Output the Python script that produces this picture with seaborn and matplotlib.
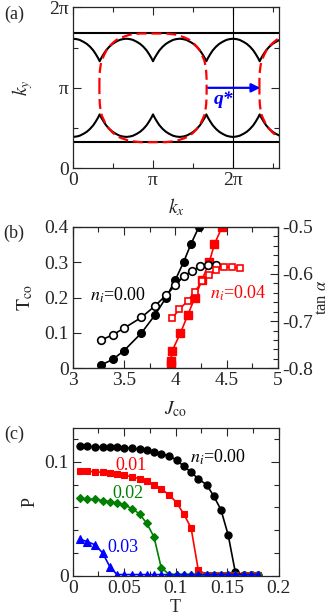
import numpy as np
import matplotlib
matplotlib.use('Agg')
import matplotlib.pyplot as plt
import seaborn as sns
from matplotlib.ticker import FixedLocator, MultipleLocator, AutoMinorLocator, FuncFormatter

sns.set_style('ticks')
plt.rcParams['font.family'] = ['Liberation Serif', 'DejaVu Serif']
plt.rcParams['mathtext.fontset'] = 'stix'
plt.rcParams['axes.unicode_minus'] = False
plt.rcParams['font.size'] = 13

# ---- panel (a): Fermi surface, k in units of pi ----
arc_dk = [0.0, 0.02, 0.05, 0.08, 0.12, 0.16, 0.20, 0.25, 0.29, 0.333]   # offset from cusp
arc_ky = [1.33, 1.37, 1.42, 1.465, 1.51, 1.545, 1.57, 1.595, 1.605, 1.61]
cusp_kx = [-1 / 3, 1 / 3, 1.0, 5 / 3, 7 / 3, 3.0]
flat_ky = [1.675, 0.325]
red_kx_q = [0.330, 0.330, 0.335, 0.345, 0.36, 0.39, 0.42, 0.46, 0.50, 0.55, 0.61, 0.71, 0.84, 1.00]
red_ky_q = [1.00, 1.10, 1.20, 1.28, 1.345, 1.41, 1.47, 1.52, 1.56, 1.60, 1.627, 1.66, 1.675, 1.675]
q_start, q_end = 1.69, 2.34

# ---- panel (b) ----
J_00 = [3.28, 3.39, 3.50, 3.67, 3.80, 3.91, 4.00, 4.08, 4.15, 4.23]
Tco_00 = [0.01, 0.025, 0.05, 0.10, 0.15, 0.20, 0.25, 0.30, 0.35, 0.40]
J_00_tan = [3.28, 3.39, 3.50, 3.67, 3.80, 3.91, 4.00, 4.08, 4.16, 4.24, 4.32, 4.40]
tan_00 = [-0.740, -0.729, -0.715, -0.692, -0.668, -0.645, -0.624, -0.605, -0.594, -0.584, -0.582, -0.580]
J_04 = [3.955, 3.955, 3.97, 4.05, 4.12, 4.19, 4.26, 4.33, 4.38, 4.455]
Tco_04 = [0.008, 0.022, 0.05, 0.10, 0.15, 0.20, 0.25, 0.30, 0.35, 0.40]
J_04_tan = [3.97, 4.04, 4.12, 4.19, 4.26, 4.33, 4.40, 4.47, 4.55, 4.63]
tan_04 = [-0.693, -0.675, -0.657, -0.638, -0.615, -0.602, -0.592, -0.586, -0.585, -0.588]

# ---- panel (c) ----
T = [0.007, 0.014, 0.022, 0.029, 0.036, 0.043, 0.050, 0.058, 0.065, 0.072, 0.079, 0.086, 0.094,
     0.101, 0.108, 0.115, 0.122, 0.130, 0.137, 0.144, 0.151, 0.158, 0.166, 0.173, 0.180]
P_000 = [0.114, 0.114, 0.113, 0.113, 0.113, 0.113, 0.112, 0.112, 0.111, 0.110, 0.109, 0.107, 0.105,
         0.1015, 0.096, 0.091, 0.085, 0.080, 0.070, 0.058, 0.036, 0.003, 0.001, 0.001, 0.001]
P_001 = [0.092, 0.092, 0.091, 0.091, 0.090, 0.089, 0.088, 0.087, 0.085, 0.083, 0.080, 0.076, 0.071,
         0.064, 0.054, 0.042, 0.005, 0.001, 0.001, 0.001, 0.001, 0.001, 0.001, 0.001, 0.001]
P_002 = [0.068, 0.067, 0.067, 0.066, 0.065, 0.064, 0.062, 0.059, 0.054, 0.046, 0.034, 0.007, 0.001,
         0.001, 0.001, 0.001, 0.001, 0.001, 0.001, 0.001, 0.001, 0.001, 0.001, 0.001, 0.001]
P_003 = [0.032, 0.030, 0.027, 0.020, 0.008, 0.001, 0.001, 0.001, 0.001, 0.001, 0.001, 0.001, 0.001,
         0.001, 0.001, 0.001, 0.001, 0.001, 0.001, 0.001, 0.001, 0.001, 0.001, 0.001, 0.001]

RED, GREEN, BLUE = '#ff0000', '#008000', '#0000ff'
TICK_FS = 14
gfmt = FuncFormatter(lambda v, p: '%g' % v)


def style_ticks(ax, right=True):
    ax.tick_params(which='both', direction='in', top=True, right=right, labelsize=TICK_FS, pad=3, width=0.8)
    ax.tick_params(which='major', length=6)
    ax.tick_params(which='minor', length=3.5)
    for s in ax.spines.values():
        s.set_linewidth(0.9)


fig = plt.figure(figsize=(3.32, 6.15), dpi=100)

# ================= (a) =================
ax = fig.add_axes([0.2199, 0.7263, 0.6205, 0.2618])
dk = np.array(arc_dk)
ky = np.array(arc_ky)
up_x, up_y = [], []
for c in cusp_kx:
    up_x += list(c - dk[::-1]) + list(c + dk[1:])
    up_y += list(ky[::-1]) + list(ky[1:])
up_x = np.array(up_x)
up_y = np.array(up_y)
for yy in [up_y, 2 - up_y]:
    sns.lineplot(x=up_x, y=yy, ax=ax, color='k', linewidth=1.5, sort=False, estimator=None, legend=False)
for f in flat_ky:
    ax.axhline(f, color='k', lw=1.5)
ax.axvline(2, color='k', lw=0.8)

# closed red loop from the top-left quarter and its mirror images
qx = np.array(red_kx_q)
qy = np.array(red_ky_q)
loop_x = np.concatenate([qx, (2 - qx)[::-1], 2 - qx, qx[::-1]])
loop_y = np.concatenate([qy, qy[::-1], 2 - qy, (2 - qy)[::-1]])
for shift in [0, 2]:
    sns.lineplot(x=loop_x + shift, y=loop_y, ax=ax, color=RED, linewidth=1.6,
                 linestyle=(0, (4.5, 2.2)), sort=False, estimator=None, legend=False)

ax.annotate('', xy=(q_end, 1.0), xytext=(q_start, 1.0),
            arrowprops=dict(arrowstyle='-|>', color=BLUE, lw=1.6, mutation_scale=13, shrinkA=0, shrinkB=0))
ax.text(1.875, 0.85, 'q*', color=BLUE, fontsize=14, fontweight='bold', fontstyle='italic',
        ha='center', va='center')

ax.set_xlim(0, 2.575)
ax.set_ylim(0, 2)
ax.xaxis.set_major_locator(FixedLocator([0, 1, 2]))
ax.xaxis.set_minor_locator(FixedLocator([0.5, 1.5, 2.5]))
ax.yaxis.set_major_locator(FixedLocator([0, 1, 2]))
ax.yaxis.set_minor_locator(FixedLocator([0.5, 1.5]))
ax.set_xticklabels(['0', 'π', '2π'])
ax.set_yticklabels(['0', 'π', '2π'])
style_ticks(ax)
ax.set_xlabel(r'$k_x$', fontsize=14)
ax.set_ylabel(r'$k_y$', fontsize=14)
ax.xaxis.set_label_coords(0.5, -0.175)
ax.yaxis.set_label_coords(-0.185, 0.5)

# ================= (b) =================
ax = fig.add_axes([0.219, 0.4011, 0.6184, 0.2302])
ax2 = ax.twinx()
sns.lineplot(x=J_00, y=Tco_00, ax=ax, color='k', marker='o', markersize=5.5, markeredgecolor='k',
             markeredgewidth=1, linewidth=1.2, sort=False, estimator=None, legend=False)
sns.lineplot(x=J_04, y=Tco_04, ax=ax, color=RED, marker='s', markersize=5.5, markeredgecolor=RED,
             markeredgewidth=1, linewidth=1.2, sort=False, estimator=None, legend=False)
sns.lineplot(x=J_00_tan, y=tan_00, ax=ax2, color='k', marker='o', markersize=5.5, markerfacecolor='white',
             markeredgecolor='k', markeredgewidth=1.2, linewidth=1.2, sort=False, estimator=None, legend=False)
sns.lineplot(x=J_04_tan, y=tan_04, ax=ax2, color=RED, marker='s', markersize=5, markerfacecolor='white',
             markeredgecolor=RED, markeredgewidth=1.2, linewidth=1.2, sort=False, estimator=None, legend=False)
ax.set_xlim(3, 5)
ax.set_ylim(0, 0.4)
ax2.set_ylim(-0.8, -0.5)
ax.xaxis.set_major_locator(MultipleLocator(0.5))
ax.xaxis.set_minor_locator(MultipleLocator(0.25))
ax.yaxis.set_major_locator(MultipleLocator(0.1))
ax2.yaxis.set_major_locator(MultipleLocator(0.1))
ax2.yaxis.set_minor_locator(AutoMinorLocator(5))
ax.xaxis.set_major_formatter(gfmt)
ax.yaxis.set_major_formatter(gfmt)
ax2.yaxis.set_major_formatter(gfmt)
style_ticks(ax, right=False)
ax2.tick_params(which='both', direction='in', labelsize=TICK_FS, pad=3, width=0.8)
ax2.tick_params(which='major', length=6)
ax2.tick_params(which='minor', length=3.5)
ax.text(3.17, 0.207, r'$n_i$=0.00', color='k', fontsize=13, va='center')
ax.text(4.34, 0.213, r'$n_i$=0.04', color=RED, fontsize=13, va='center')
ax.set_xlabel(r'$J_{\rm co}$', fontsize=14)
ax.set_ylabel(r'$\mathrm{T}_{\rm co}$', fontsize=14)
ax2.set_ylabel(r'tan $\alpha$', fontsize=12)
ax.xaxis.set_label_coords(0.5, -0.22)
ax.yaxis.set_label_coords(-0.185, 0.5)
ax2.yaxis.set_label_coords(1.175, 0.5)

# ================= (c) =================
ax = fig.add_axes([0.219, 0.0639, 0.62, 0.2407])
series = [(P_000, 'k', 'o', 5.2), (P_001, RED, 's', 5.0), (P_002, GREEN, 'D', 4.3), (P_003, BLUE, '^', 5.2)]
for vals, col, mk, ms in series:
    sns.lineplot(x=T, y=vals, ax=ax, color=col, marker=mk, markersize=ms, markeredgecolor=col,
                 markeredgewidth=0.8, linewidth=1.2, sort=False, estimator=None, legend=False)
ax.set_xlim(0, 0.2)
ax.set_ylim(0, 0.13)
ax.xaxis.set_major_locator(MultipleLocator(0.05))
ax.xaxis.set_minor_locator(MultipleLocator(0.025))
ax.yaxis.set_major_locator(FixedLocator([0, 0.1]))
ax.yaxis.set_minor_locator(FixedLocator([0.02, 0.04, 0.06, 0.08, 0.12]))
ax.xaxis.set_major_formatter(gfmt)
ax.yaxis.set_major_formatter(gfmt)
style_ticks(ax)
ax.text(0.114, 0.104, r'$n_i$=0.00', color='k', fontsize=13, va='center')
ax.text(0.041, 0.097, '0.01', color=RED, fontsize=13, va='center')
ax.text(0.039, 0.0726, '0.02', color=GREEN, fontsize=13, va='center')
ax.text(0.034, 0.025, '0.03', color=BLUE, fontsize=13, va='center')
ax.set_xlabel('T', fontsize=13)
ax.set_ylabel('P', fontsize=13)
ax.xaxis.set_label_coords(0.5, -0.16)
ax.yaxis.set_label_coords(-0.165, 0.5)

for lab, y in [('(a)', 0.976), ('(b)', 0.62), ('(c)', 0.293)]:
    fig.text(0.042, y, lab, fontsize=13, ha='center', va='center')

fig.savefig('out.png', dpi=100)
